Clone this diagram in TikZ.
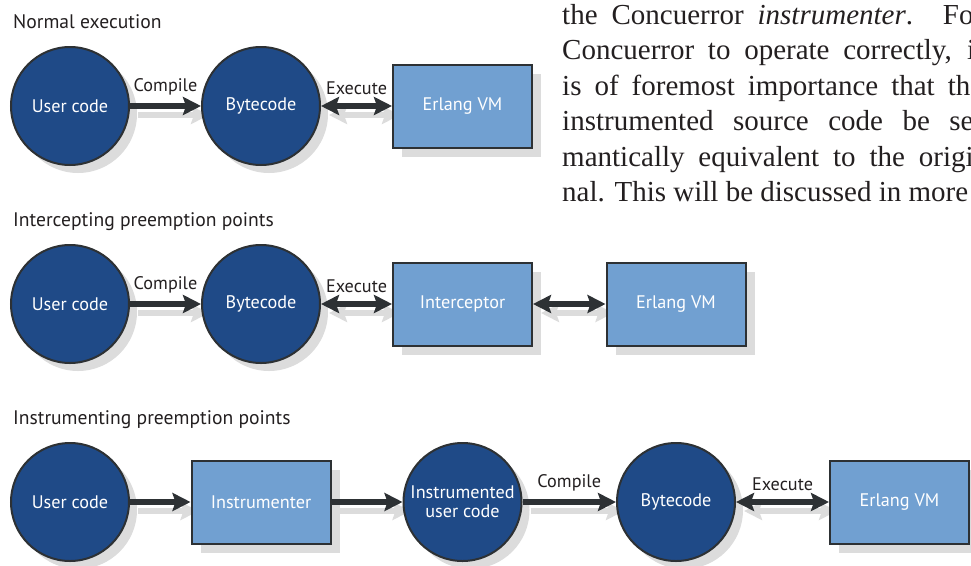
\documentclass[tikz,border=0pt]{standalone}
\usepackage{fontspec}
\setmainfont{PT Sans}
\newfontfamily\parafont{Liberation Serif}
\usetikzlibrary{arrows.meta,shadows}
\definecolor{cdark}{HTML}{1F4A87}
\definecolor{cbox}{HTML}{71A0D1}
\definecolor{cline}{HTML}{2D3134}
\definecolor{cshadow}{HTML}{DCDCDC}
\definecolor{ctext}{HTML}{231F20}
\pgfdeclarelayer{bg}
\pgfsetlayers{bg,main}
\newcommand{\nodefont}{\fontsize{18.2}{20}\selectfont}
\newcommand{\titlefont}{\fontsize{19.6}{22}\selectfont}
\newcommand{\parfont}{\parafont\fontsize{29}{34}\selectfont}
\begin{document}
\begin{tikzpicture}[x=1pt,y=-1pt,
  circnode/.style={circle, draw=cline, line width=2pt, fill=cdark,
    minimum size=118pt, inner sep=0pt, text=white, font=\nodefont, align=center,
    drop shadow={shadow xshift=8pt, shadow yshift=-8pt, fill=cshadow, opacity=1}},
  boxnode/.style={rectangle, draw=cline, line width=2pt, fill=cbox,
    minimum width=139pt, minimum height=83pt, inner sep=0pt, text=white, font=\nodefont,
    drop shadow={shadow xshift=9pt, shadow yshift=-9pt, fill=cshadow, opacity=1}},
  tipshape/.tip={Stealth[length=18pt,width=18pt,inset=3pt]},
  arr/.style={draw=cline, line width=6pt, -tipshape},
  darr/.style={draw=cline, line width=6pt, tipshape-tipshape},
  arrsh/.style={draw=cshadow, line width=6pt, -tipshape},
  darrsh/.style={draw=cshadow, line width=6pt, tipshape-tipshape},
  lbl/.style={font=\nodefont, text=ctext, inner sep=0pt},
  title/.style={font=\titlefont, text=ctext, inner sep=0pt, anchor=base west},
  para/.style={font=\parfont, text=ctext, inner sep=0pt, anchor=base west}
]
\useasboundingbox (0,0) rectangle (971,565);
\clip (0,0) rectangle (971,565);

% paragraph fragment
\node[para] (p1) at (562,24) {\makebox[421pt][s]{the Concuerror \textit{instrumenter}. For}};
\node[para] (p2) at (562,59.5) {\makebox[421pt][s]{Concuerror to operate correctly, it}};
\node[para] (p3) at (562,95) {\makebox[421pt][s]{is of foremost importance that the}};
\node[para] (p4) at (562,130.5) {\makebox[421pt][s]{instrumented source code be se-}};
\node[para] (p5) at (562,166) {\makebox[421pt][s]{mantically equivalent to the origi-}};
\node[para] (p6) at (562,201.5) {\makebox[406pt][s]{nal. This will be discussed in more}};

% titles
\node[title] (t1) at (13,28) {Normal execution};
\node[title] (t2) at (13,226) {Intercepting preemption points};
\node[title] (t3) at (13,424) {Instrumenting preemption points};

% row 1
\node[circnode] (r1uc) at (70,106) {User code};
\node[circnode] (r1bc) at (261,106) {Bytecode};
\node[boxnode] (r1vm) at (462.5,106) {Erlang VM};
% row 2
\node[circnode] (r2uc) at (70,304) {User code};
\node[circnode] (r2bc) at (261,304) {Bytecode};
\node[boxnode] (r2int) at (462.5,304) {Interceptor};
\node[boxnode] (r2vm) at (676,304) {Erlang VM};
% row 3
\node[circnode] (r3uc) at (70,502) {User code};
\node[boxnode] (r3ins) at (261,502) {Instrumenter};
\node[circnode] (r3iuc) at (462.5,502) {Instrumented\\[-1pt]user code};
\node[circnode] (r3bc) at (676,502) {Bytecode};
\node[boxnode] (r3vm) at (899.5,502) {Erlang VM};

% arrow shadows
\begin{pgfonlayer}{bg}
\begin{scope}[transform canvas={xshift=8pt,yshift=-9pt}]
\draw[arrsh] (r1uc) -- (r1bc);
\draw[darrsh] (r1bc) -- (r1vm);
\draw[arrsh] (r2uc) -- (r2bc);
\draw[darrsh] (r2bc) -- (r2int);
\draw[darrsh] (r2int) -- (r2vm);
\draw[arrsh] (r3uc) -- (r3ins);
\draw[arrsh] (r3ins) -- (r3iuc);
\draw[arrsh] (r3iuc) -- (r3bc);
\draw[darrsh] (r3bc) -- (r3vm);
\end{scope}
\end{pgfonlayer}

% arrows
\draw[arr] (r1uc) -- node[lbl, above=8pt] {Compile} (r1bc);
\draw[darr] (r1bc) -- node[lbl, above=8pt] {Execute} (r1vm);
\draw[arr] (r2uc) -- node[lbl, above=8pt] {Compile} (r2bc);
\draw[darr] (r2bc) -- node[lbl, above=8pt] {Execute} (r2int);
\draw[darr] (r2int) -- (r2vm);
\draw[arr] (r3uc) -- (r3ins);
\draw[arr] (r3ins) -- (r3iuc);
\draw[arr] (r3iuc) -- node[lbl, above=8pt] {Compile} (r3bc);
\draw[darr] (r3bc) -- node[lbl, above=8pt] {Execute} (r3vm);
\end{tikzpicture}
\end{document}
